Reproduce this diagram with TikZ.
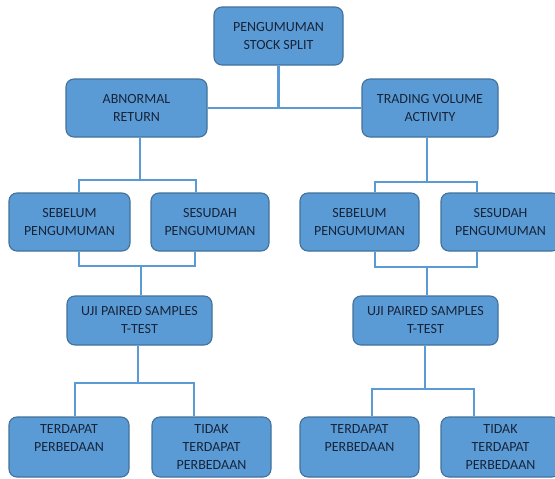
\documentclass[tikz,border=0pt]{standalone}
\usepackage{fontspec}
\setmainfont{Carlito}
\usepackage{xcolor}
\definecolor{boxfill}{HTML}{5B9BD5}
\definecolor{boxline}{HTML}{41719C}
\definecolor{boxtext}{HTML}{17243A}
\tikzset{
  box/.style={draw=boxline, line width=1.1pt, fill=boxfill, rounded corners=8pt,
    text=boxtext, align=center, font=\fontsize{14}{18}\selectfont,
    minimum height=58pt, inner sep=0pt},
  link/.style={draw=boxfill, line width=2.3pt}
}
\begin{document}
\begin{tikzpicture}[x=1pt,y=-1pt]
  \useasboundingbox (0,0) rectangle (555,479);
  \clip (0,0) rectangle (555,479);
  \fill[white] (0,0) rectangle (555,479);
  \node[box, minimum width=129pt] (top) at (278.5,36) {PENGUMUMAN\\STOCK SPLIT};
  \node[box, minimum width=141pt] (ar) at (136.5,108) {ABNORMAL\\RETURN};
  \node[box, minimum width=136pt] (tv) at (430,108) {TRADING VOLUME\\ACTIVITY};
  \node[box, minimum width=121pt] (sb1) at (69.5,222) {SEBELUM\\PENGUMUMAN};
  \node[box, minimum width=118pt] (ss1) at (210,222) {SESUDAH\\PENGUMUMAN};
  \node[box, minimum width=119pt] (sb2) at (359.5,222) {SEBELUM\\PENGUMUMAN};
  \node[box, minimum width=119pt] (ss2) at (500.5,222) {SESUDAH\\PENGUMUMAN};
  \node[box, minimum width=145pt, minimum height=49pt] (uji1) at (139.5,320.5) {UJI PAIRED SAMPLES\\T-TEST};
  \node[box, minimum width=145pt, minimum height=49pt] (uji2) at (425.5,320.5) {UJI PAIRED SAMPLES\\T-TEST};
  \node[box, minimum width=120pt, minimum height=60pt] (td1) at (69,447) {TERDAPAT\\PERBEDAAN\\~};
  \node[box, minimum width=119pt, minimum height=60pt] (tt1) at (211.5,447) {TIDAK\\TERDAPAT\\PERBEDAAN};
  \node[box, minimum width=119pt, minimum height=60pt] (td2) at (359.5,447) {TERDAPAT\\PERBEDAAN\\~};
  \node[box, minimum width=119pt, minimum height=60pt] (tt2) at (500.5,447) {TIDAK\\TERDAPAT\\PERBEDAAN};

  \coordinate (jA) at (140,180);
  \coordinate (jB) at (141,266);
  \coordinate (jC) at (138,383);
  \coordinate (jD) at (427,182);
  \coordinate (jE) at (427,267);
  \coordinate (jF) at (425,389);

  \draw[link] (ar.east) -- (tv.west);
  \draw[link] (top.south) -- (top.south |- ar.east);

  \draw[link] (jA |- ar.south) -- (jA);
  \draw[link] ([xshift=9.5pt]sb1.north) |- (jA) -| ([xshift=-14pt]ss1.north);
  \draw[link] ([xshift=9.5pt]sb1.south) |- (jB) -| ([xshift=-15pt]ss1.south);
  \draw[link] (jB) -- (jB |- uji1.north);
  \draw[link] (jC |- uji1.south) -- (jC);
  \draw[link] ([xshift=6pt]td1.north) |- (jC) -| ([xshift=-17.5pt]tt1.north);

  \draw[link] (jD |- tv.south) -- (jD);
  \draw[link] ([xshift=15.5pt]sb2.north) |- (jD) -| ([xshift=-23.5pt]ss2.north);
  \draw[link] ([xshift=15.5pt]sb2.south) |- (jE) -| ([xshift=-23.5pt]ss2.south);
  \draw[link] (jE) -- (jE |- uji2.north);
  \draw[link] (jF |- uji2.south) -- (jF);
  \draw[link] ([xshift=12.5pt]td2.north) |- (jF) -| ([xshift=-26.5pt]tt2.north);
\end{tikzpicture}
\end{document}
